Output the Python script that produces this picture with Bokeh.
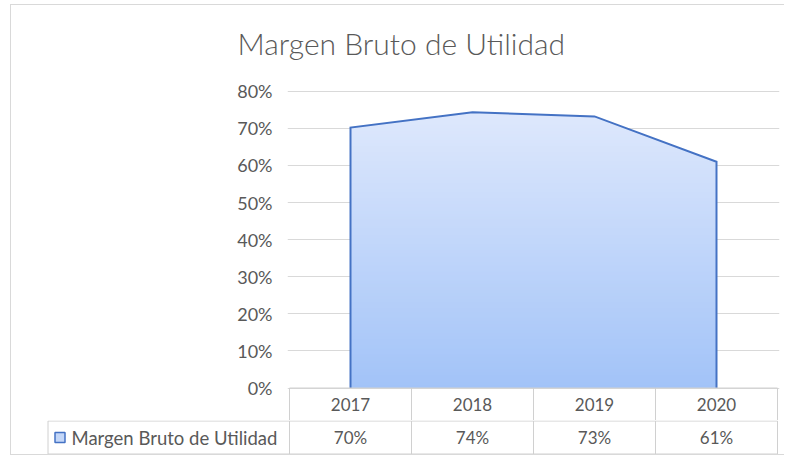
import numpy as np
from bokeh.plotting import figure
from bokeh.layouts import column, row
from bokeh.models import Range1d, FixedTicker, NumeralTickFormatter
from bokeh.core.properties import value
from bokeh.embed import file_html
from bokeh.resources import INLINE

# ---------------- data ----------------
title_text = "Margen Bruto de Utilidad"
series_name = "Margen Bruto de Utilidad"
years = ["2017", "2018", "2019", "2020"]
margins = [0.702, 0.743, 0.732, 0.610]
y_ticks = [0.0, 0.1, 0.2, 0.3, 0.4, 0.5, 0.6, 0.7, 0.8]
table_values = [f"{round(m * 100)}%" for m in margins]

# ---------------- style / layout ----------------
FONT = "Lato"
TITLE_FONT = "Lato Light, Lato"
TXT = "#595959"
GRID = "#d9d9d9"
TABLE = "#d0d0d0"
LINE = "#4472C4"
C_TOP = np.array([222, 232, 252])
C_BOT = np.array([162, 195, 248])

W = 773
PAGE_X0, PAGE_Y0 = 11, 5        # where the figures start on the page (inside the border)
CAT_PX = 122.0
CAT_LEFT_PAGE = 289.0          # page x of the left edge of first category
FRAME_L_PAGE, FRAME_R_PAGE = 287, 779
FRAME_T_PAGE = 62
ZERO_PAGE = 387.5              # page y of 0%
PX_PER_UNIT = 371.0            # pixels per 100 %
ROW1_BOTTOM_PAGE = 420         # end of figure A / header row
ROW2_BOTTOM_PAGE = 454
LEGEND_LEFT_PAGE = 47.5

HA = ROW1_BOTTOM_PAGE - PAGE_Y0
HB = ROW2_BOTTOM_PAGE - ROW1_BOTTOM_PAGE

n = len(years)
xs = np.arange(n, dtype=float)
vals = np.array(margins)

# ---------------- figure A : chart + header row ----------------
xa0 = -0.5 - (CAT_LEFT_PAGE - FRAME_L_PAGE) / CAT_PX
xa1 = xa0 + (FRAME_R_PAGE - FRAME_L_PAGE) / CAT_PX
ya1 = (ZERO_PAGE - FRAME_T_PAGE) / PX_PER_UNIT
ya0 = (ZERO_PAGE - ROW1_BOTTOM_PAGE) / PX_PER_UNIT

pA = figure(width=W, height=HA, output_backend="svg", toolbar_location=None,
            x_range=Range1d(xa0, xa1), y_range=Range1d(ya0, ya1),
            x_axis_location=None,
            min_border_left=FRAME_L_PAGE - PAGE_X0,
            min_border_right=(PAGE_X0 + W) - FRAME_R_PAGE,
            min_border_top=FRAME_T_PAGE - PAGE_Y0,
            min_border_bottom=0,
            title=title_text)
pA.outline_line_color = None
pA.background_fill_color = "white"
pA.border_fill_color = "white"
pA.title.align = "left"
pA.title.offset = 237 - FRAME_L_PAGE
pA.title.standoff = 4
pA.title.text_font = TITLE_FONT
pA.title.text_font_size = "30px"
pA.title.text_font_style = "normal"
pA.title.text_color = TXT

pA.xgrid.visible = False
pA.ygrid.ticker = FixedTicker(ticks=y_ticks)
pA.ygrid.grid_line_color = GRID
pA.ygrid.grid_line_width = 1

ax = pA.yaxis[0]
ax.ticker = FixedTicker(ticks=y_ticks)
ax.formatter = NumeralTickFormatter(format="0%")
ax.axis_line_color = None
ax.major_tick_line_color = None
ax.minor_tick_line_color = None
ax.major_tick_out = 0
ax.major_tick_in = 0
ax.major_label_standoff = 15
ax.major_label_text_font = FONT
ax.major_label_text_font_size = "18px"
ax.major_label_text_color = TXT

# gradient fill of the area, made of thin horizontal bands
top = vals.max()
N = 90
eps = top / N * 0.6
for k in range(N):
    a = top * k / N
    b = top * (k + 1) / N + eps
    bx = set(xs.tolist())
    for lvl in (a, b):
        for i in range(n - 1):
            v0, v1 = vals[i], vals[i + 1]
            if (v0 - lvl) * (v1 - lvl) < 0:
                bx.add(xs[i] + (lvl - v0) / (v1 - v0))
    bx = np.array(sorted(bx))
    fv = np.interp(bx, xs, vals)
    y1 = np.minimum(fv, a)
    y2 = np.minimum(fv, b)
    t = (k + 0.5) / N
    c = (C_BOT + (C_TOP - C_BOT) * t).round().astype(int)
    col = "#%02x%02x%02x" % tuple(c)
    pA.varea(x=bx, y1=y1, y2=y2, fill_color=col)

# outline of the area
ox = [xs[0]] + xs.tolist() + [xs[-1]]
oy = [0.0] + vals.tolist() + [0.0]
pA.line(x=ox, y=oy, line_color=LINE, line_width=2, line_join="miter")

# header row of the data table
edges = np.arange(n + 1) - 0.5
pA.segment(x0=[edges[0]], y0=[0], x1=[edges[-1]], y1=[0], line_color=TABLE, line_width=1)
pA.segment(x0=edges, y0=[ya0] * (n + 1), x1=edges, y1=[0] * (n + 1),
           line_color=TABLE, line_width=1)
pA.text(x=xs, y=[ya0 / 2] * n, text=years, text_align="center", text_baseline="middle",
        text_font=value(FONT), text_font_size=value("17px"), text_color=TXT)

# ---------------- figure B : values row ----------------
xb0 = -0.5 - (CAT_LEFT_PAGE - PAGE_X0) / CAT_PX
xb1 = xb0 + W / CAT_PX


def bx_of(page_x):
    return xb0 + (page_x - PAGE_X0) / CAT_PX


pB = figure(width=W, height=HB, output_backend="svg", toolbar_location=None,
            x_range=Range1d(xb0, xb1), y_range=Range1d(ROW2_BOTTOM_PAGE, ROW1_BOTTOM_PAGE),
            x_axis_location=None, y_axis_location=None,
            min_border_left=0, min_border_right=0, min_border_top=0, min_border_bottom=0)
pB.outline_line_color = None
pB.grid.visible = False
pB.background_fill_color = "white"
pB.border_fill_color = "white"

row_top = ROW1_BOTTOM_PAGE + 0.5
row_bot = 453.5
leg_l = bx_of(LEGEND_LEFT_PAGE)
pB.segment(x0=[leg_l, leg_l], y0=[row_top, row_bot], x1=[edges[-1], edges[-1]], y1=[row_top, row_bot],
           line_color=TABLE, line_width=1)
vx = [leg_l] + edges.tolist()
pB.segment(x0=vx, y0=[row_top] * len(vx), x1=vx, y1=[row_bot] * len(vx),
           line_color=TABLE, line_width=1)
mid = (row_top + row_bot) / 2
pB.text(x=xs, y=[mid] * n, text=table_values, text_align="center", text_baseline="middle",
        text_font=value(FONT), text_font_size=value("17px"), text_color=TXT)
pB.scatter(x=[bx_of(59.5)], y=[mid], marker="square", size=10,
           fill_color="#c4d7f8", line_color=LINE, line_width=1.5)
pB.text(x=[bx_of(71)], y=[mid], text=[series_name], text_align="left", text_baseline="middle",
        text_font=value(FONT), text_font_size=value("18.5px"), text_color=TXT)

layout = column(row(pA), row(pB), spacing=0,
                styles={"border-left": "1px solid #d9d9d9", "border-top": "1px solid #d9d9d9",
                        "border-bottom": "1px solid #d9d9d9",
                        "margin-left": "10px", "margin-top": "4px"})

open("out.html", "w").write(file_html(layout, INLINE))
